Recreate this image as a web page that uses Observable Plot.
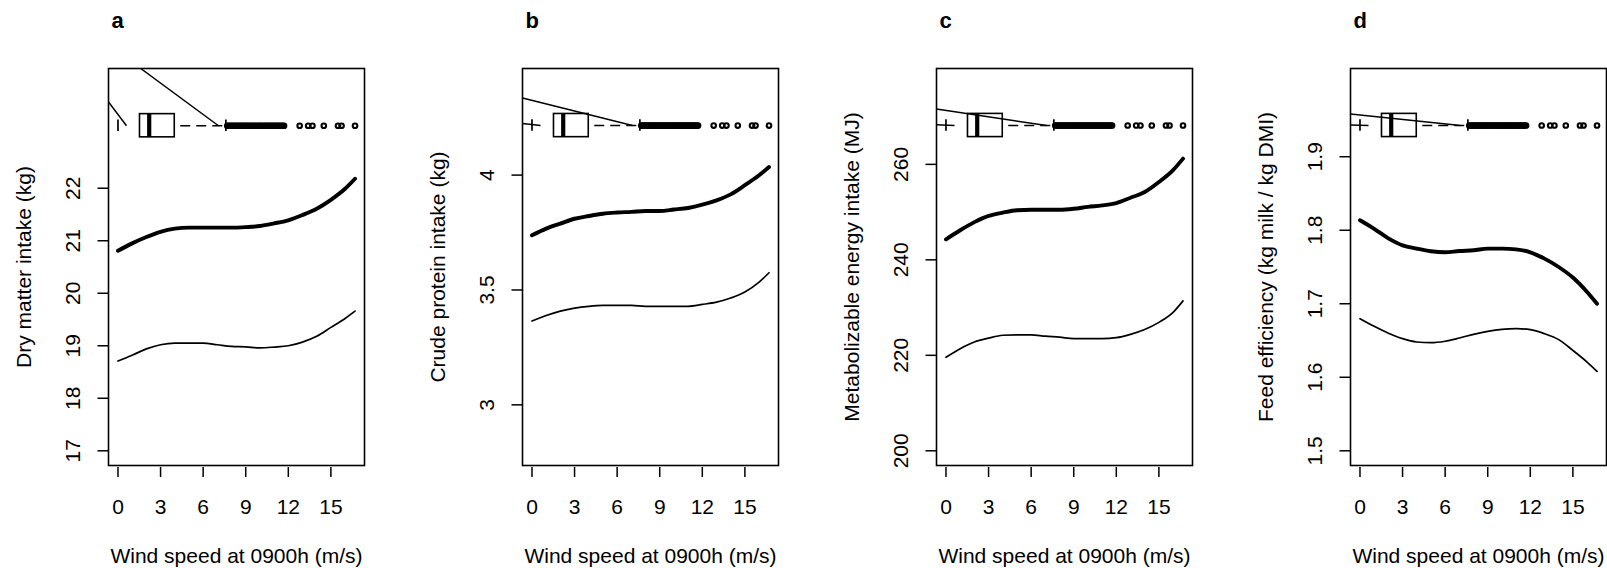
<!DOCTYPE html>
<html><head><meta charset="utf-8">
<script src="https://cdn.jsdelivr.net/npm/d3@7"></script>
<script src="https://cdn.jsdelivr.net/npm/@observablehq/plot@0.6"></script>
<style>
html,body{margin:0;padding:0;background:#fff;}
body{width:1607px;height:568px;overflow:hidden;position:relative;font-family:"Liberation Sans",Arial,Helvetica,sans-serif;}
#chart{position:relative;width:1607px;height:568px;}
#chart svg{position:absolute;top:0;}
</style></head><body><div id="chart"></div>
<script>
// ---------- data ----------
const panelLetters = ["a", "b", "c", "d"];
const yAxisTitles = [
  "Dry matter intake (kg)",
  "Crude protein intake (kg)",
  "Metabolizable energy intake (MJ)",
  "Feed efficiency (kg milk / kg DMI)"
];
const xAxisTitle = "Wind speed at 0900h (m/s)";
const xTicks = [0, 3, 6, 9, 12, 15];
const xRange = [0, 16.7];
const yRanges = [[17, 24], [2.8, 4.4], [200, 277], [1.5, 2.0]];
const yTicksA = [17, 18, 19, 20, 21, 22];
const yTicksB = [3, 3.5, 4];
const yTicksC = [200, 220, 240, 260];
const yTicksD = [1.5, 1.6, 1.7, 1.8, 1.9];

const windSpeed = [0, 1, 2, 3, 4, 5, 6, 7, 8, 9, 10, 11, 12, 13, 14, 15, 16, 16.7];
// panel a: dry matter intake
const dmiUpper = [20.81, 20.95, 21.07, 21.17, 21.23, 21.25, 21.25, 21.25, 21.25, 21.26, 21.28, 21.33, 21.39, 21.49, 21.61, 21.78, 21.99, 22.18];
const dmiLower = [18.71, 18.82, 18.94, 19.02, 19.05, 19.05, 19.05, 19.02, 18.99, 18.98, 18.96, 18.975, 19.0, 19.07, 19.18, 19.35, 19.52, 19.66];
// panel b: crude protein intake
const cpiUpper = [3.738, 3.767, 3.789, 3.81, 3.822, 3.832, 3.837, 3.84, 3.844, 3.844, 3.85, 3.857, 3.871, 3.89, 3.916, 3.956, 3.999, 4.035];
const cpiLower = [3.365, 3.389, 3.408, 3.421, 3.429, 3.433, 3.433, 3.433, 3.429, 3.429, 3.429, 3.429, 3.437, 3.447, 3.465, 3.491, 3.534, 3.575];
// panel c: metabolizable energy intake
const meiUpper = [244.3, 246.2, 247.9, 249.2, 249.9, 250.4, 250.5, 250.5, 250.5, 250.7, 251.1, 251.4, 251.9, 253.0, 254.2, 256.3, 258.8, 261.2];
const meiLower = [219.6, 221.4, 222.8, 223.6, 224.2, 224.3, 224.3, 224.0, 223.8, 223.5, 223.5, 223.5, 223.7, 224.4, 225.4, 226.9, 229.0, 231.4];
// panel d: feed efficiency
const feUpper = [1.8136, 1.802, 1.789, 1.7795, 1.775, 1.7714, 1.770, 1.7718, 1.7727, 1.775, 1.775, 1.774, 1.770, 1.7614, 1.750, 1.7356, 1.716, 1.700];
const feLower = [1.6797, 1.6693, 1.660, 1.6525, 1.648, 1.647, 1.649, 1.6534, 1.6584, 1.6625, 1.6652, 1.6661, 1.6648, 1.6593, 1.6512, 1.6366, 1.6207, 1.608];

// boxplot of wind speed (same for every panel)
const whiskerLow = 0;
const quartile1 = 1.55;
const medianWind = 2.2;
const quartile3 = 4.0;
const whiskerHigh = 7.6;
const outlierWind = [7.7, 7.8, 7.9, 8.0, 8.1, 8.2, 8.3, 8.4, 8.5, 8.6, 8.7, 8.8, 8.9, 9.0, 9.1, 9.2, 9.3, 9.4, 9.5, 9.6, 9.7, 9.8, 9.9, 10.0, 10.1, 10.2, 10.3, 10.4, 10.5, 10.6, 10.7, 10.8, 10.9, 11.0, 11.1, 11.2, 11.3, 11.4, 11.5, 11.6, 11.7, 12.8, 13.4, 13.7, 14.5, 15.5, 15.75, 16.7];
// vertical level of the boxplot in each panel (y units)
const boxLevels = [23.19, 4.2156, 268.14, 1.9425];
// stray straight segments drawn over the boxplot: [x1, y1, x2, y2]
const longSegA = [1.60, 24.28, 7.08, 23.19];
const longSegB = [-0.668, 4.336, 7.08, 4.2156];
const longSegC = [-0.668, 271.6, 7.08, 268.14];
const longSegD = [-0.668, 1.958, 7.08, 1.9425];
const shortSegA = [-0.668, 23.644, 0.6, 23.19];
const shortSegB = [-0.668, 4.225, 0.6, 4.2156];
const shortSegC = [-0.668, 268.3, 0.6, 268.14];
const shortSegD = [-0.668, 1.943, 0.6, 1.9425];

// ---------- build ----------
const upperSeries = [dmiUpper, cpiUpper, meiUpper, feUpper];
const lowerSeries = [dmiLower, cpiLower, meiLower, feLower];
const yTickSets = [yTicksA, yTicksB, yTicksC, yTicksD];
const longSegs = [longSegA, longSegB, longSegC, longSegD];
const shortSegs = [shortSegA, shortSegB, shortSegC, shortSegD];

const FONT = 21;
const W = 414, H = 568, ML = 120, MR = 38, MT = 68, MB = 103;
const frameH = H - MT - MB;
const expand = r => { const e = (r[1] - r[0]) * 0.04; return [r[0] - e, r[1] + e]; };
const xDomain = expand(xRange);

function makePanel(i) {
  const yDomain = expand(yRanges[i]);
  const span = yDomain[1] - yDomain[0];
  const half = span * 11.6 / frameH;  // half box height
  const lvl = boxLevels[i];
  const up = windSpeed.map((x, j) => ({x, y: upperSeries[i][j]}));
  const lo = windSpeed.map((x, j) => ({x, y: lowerSeries[i][j]}));
  const segs = [longSegs[i], shortSegs[i]];
  return Plot.plot({
    width: W, height: H,
    marginLeft: ML, marginRight: MR, marginTop: MT, marginBottom: MB,
    x: {domain: xDomain},
    y: {domain: yDomain},
    style: {fontFamily: '"Liberation Sans", Arial, Helvetica, sans-serif', background: "transparent", overflow: "visible", color: "black"},
    marks: [
      Plot.frame({stroke: "black", strokeWidth: 1.6}),
      Plot.axisX(xTicks, {tickSize: 10, dy: 2, strokeWidth: 1.5, tickFormat: () => "", label: null}),
      Plot.axisY(yTickSets[i], {tickSize: 10.5, strokeWidth: 1.5, tickFormat: () => "", label: null}),
      Plot.text(xTicks, {x: d => d, frameAnchor: "bottom", dy: 41.7, text: d => String(d), fontSize: FONT, lineAnchor: "middle", fill: "black"}),
      Plot.text(yTickSets[i], {y: d => d, frameAnchor: "left", dx: -35.5, rotate: -90, text: d => String(d), fontSize: FONT, textAnchor: "middle", lineAnchor: "middle", fill: "black"}),
      Plot.text([yAxisTitles[i]], {frameAnchor: "left", dx: -84, rotate: -90, text: d => d, fontSize: FONT, textAnchor: "middle", lineAnchor: "middle", fill: "black"}),
      Plot.text([xAxisTitle], {frameAnchor: "bottom", dy: 90.5, text: d => d, fontSize: FONT, textAnchor: "middle", lineAnchor: "middle", fill: "black"}),
      Plot.text([panelLetters[i]], {frameAnchor: "top-left", dx: 3, dy: -47.5, text: d => d, fontSize: 22, fontWeight: "bold", textAnchor: "start", lineAnchor: "middle", fill: "black"}),
      // curves
      Plot.line(lo, {x: "x", y: "y", stroke: "black", strokeWidth: 1.7, curve: "monotone-x"}),
      Plot.line(up, {x: "x", y: "y", stroke: "black", strokeWidth: 3.9, curve: "monotone-x"}),
      // boxplot
      Plot.rect([{x1: quartile1, x2: quartile3, y1: lvl - half, y2: lvl + half}], {x1: "x1", x2: "x2", y1: "y1", y2: "y2", fill: "none", stroke: "black", strokeWidth: 1.6}),
      Plot.ruleX([medianWind], {x: d => d, y1: lvl - half, y2: lvl + half, stroke: "black", strokeWidth: 4.2}),
      Plot.ruleX([whiskerLow, whiskerHigh], {x: d => d, y1: lvl - half * 0.5, y2: lvl + half * 0.5, stroke: "black", strokeWidth: 1.7}),
      Plot.ruleY([lvl], {y: d => d, x1: quartile3, x2: whiskerHigh, stroke: "black", strokeWidth: 1.5, strokeDasharray: "10,6", strokeDashoffset: 10}),
      Plot.dot(outlierWind, {x: d => d, y: () => lvl, r: 2.3, stroke: "black", strokeWidth: 2.1, fill: "none"}),
      Plot.link(segs, {x1: d => d[0], y1: d => d[1], x2: d => d[2], y2: d => d[3], stroke: "black", strokeWidth: 1.5, clip: true})
    ]
  });
}

const host = document.getElementById("chart");
const panelStep = 414.2;
for (let i = 0; i < 4; i++) {
  const svg = makePanel(i);
  svg.style.left = (107.7 - ML + panelStep * i) + "px";
  host.appendChild(svg);
}
</script>
</body></html>
